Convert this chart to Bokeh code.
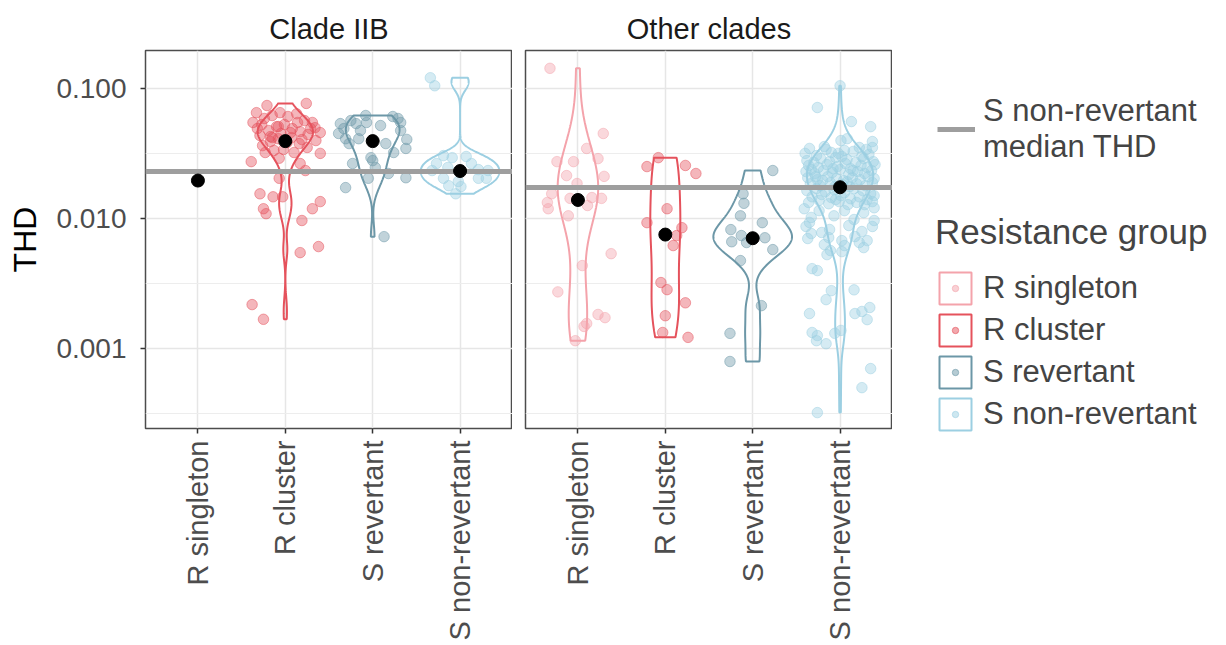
import numpy as np
from bokeh.plotting import figure
from bokeh.models import (Range1d, FixedTicker, Legend, LegendItem, Grid,
                          NumeralTickFormatter, ColumnDataSource)
from bokeh.layouts import row, column
from bokeh.embed import file_html
from bokeh.resources import INLINE

FONT = "Liberation Sans"

groups = ["R singleton", "R cluster", "S revertant", "S non-revertant"]
colors = ["#F4A3AB", "#E5525C", "#6C97A7", "#9CCFE2"]
median_line_color = "#9E9E9E"
panel_titles = ["Clade IIB", "Other clades"]
y_tick_values = [0.001, 0.01, 0.1]

# ---------------- Clade IIB ----------------
iib_r_singleton_thd = [0.0196]
iib_r_singleton_dx = [0.00]

iib_r_cluster_thd = [0.0274, 0.0291, 0.0234, 0.0204, 0.0155, 0.0147, 0.0147, 0.0119,
                     0.0109, 0.0135, 0.0119, 0.00966, 0.00609, 0.00547, 0.00218, 0.00168,
                     0.0740, 0.0652, 0.0768, 0.0548, 0.0458, 0.0317, 0.0265, 0.0492,
                     0.0588, 0.0620, 0.0652, 0.0609, 0.0639, 0.0567, 0.0548, 0.0435,
                     0.0475, 0.0509, 0.0529, 0.0492, 0.0466, 0.0443, 0.0398, 0.0364,
                     0.0391, 0.0411, 0.0419, 0.0377, 0.0352, 0.0500, 0.0322, 0.0334,
                     0.0340, 0.0322, 0.0405, 0.0384, 0.0427, 0.0492, 0.0510, 0.0458,
                     0.0528, 0.0548, 0.0451, 0.0420]
iib_r_cluster_dx = [-0.39, -0.07, 0.23, -0.07, -0.29, -0.14, -0.03, -0.25,
                    -0.22, 0.40, 0.31, 0.19, 0.38, 0.17, -0.38, -0.25,
                    -0.21, -0.33, 0.24, -0.37, 0.40, 0.40, 0.17, -0.32,
                    -0.24, -0.15, -0.06, 0.03, 0.13, 0.22, 0.31, -0.29,
                    -0.19, -0.10, -0.01, 0.08, 0.17, 0.26, 0.35, -0.26,
                    -0.17, -0.08, 0.07, 0.16, 0.25, 0.34, -0.23, -0.13,
                    -0.02, 0.10, 0.19, 0.02, -0.17, 0.29, -0.08, 0.06,
                    -0.27, 0.14, -0.05, -0.15]

iib_s_revertant_thd = [0.0537, 0.0451, 0.0537, 0.0620, 0.0588, 0.0548, 0.0406, 0.0346,
                       0.0377, 0.0322, 0.0377, 0.0265, 0.0294, 0.0279, 0.0247, 0.0204,
                       0.0222, 0.0206, 0.0173, 0.00726, 0.0492, 0.0567, 0.0475, 0.0548,
                       0.0609, 0.0475, 0.0519, 0.0411, 0.0411]
iib_s_revertant_dx = [-0.37, -0.39, -0.19, -0.08, 0.29, 0.32, 0.39, 0.38,
                      0.15, 0.24, -0.27, -0.23, -0.02, 0.00, 0.03, -0.05,
                      0.18, 0.38, -0.31, 0.13, -0.33, -0.25, -0.14, -0.07,
                      0.23, 0.32, 0.09, -0.16, -0.31]

iib_s_nonrev_thd = [0.121, 0.105, 0.0305, 0.0294, 0.0300, 0.0265, 0.0234, 0.0247,
                    0.0238, 0.0234, 0.0204, 0.0204, 0.0204, 0.0193, 0.0155, 0.0265,
                    0.0176, 0.0179]
iib_s_nonrev_dx = [-0.34, -0.29, -0.19, -0.09, 0.07, -0.27, -0.32, -0.14,
                   0.21, 0.32, -0.19, 0.21, 0.30, -0.02, -0.05, 0.13,
                   0.01, -0.13]

iib_medians = [0.0196, 0.0394, 0.0394, 0.0232]

# ---------------- Other clades ----------------
oth_r_singleton_thd = [0.143, 0.0451, 0.0346, 0.0274, 0.0274, 0.0289, 0.0214, 0.0211,
                       0.0186, 0.0155, 0.0133, 0.0119, 0.0143, 0.0126, 0.0145, 0.0143,
                       0.0105, 0.00537, 0.00435, 0.00273, 0.00183, 0.00173, 0.00156,
                       0.00148, 0.00115]
oth_r_singleton_dx = [-0.32, 0.29, 0.10, -0.24, -0.05, 0.23, -0.13, 0.30,
                      -0.01, -0.30, -0.35, -0.34, -0.09, 0.11, 0.16, 0.27,
                      -0.11, 0.38, 0.05, -0.23, 0.23, 0.31, 0.10, 0.07, -0.03]

oth_r_cluster_thd = [0.0251, 0.0294, 0.0256, 0.0222, 0.0119, 0.00930, 0.00851, 0.00740,
                     0.00620, 0.00322, 0.00284, 0.00225, 0.00179, 0.00133, 0.00122]
oth_r_cluster_dx = [-0.21, -0.08, 0.23, 0.35, 0.02, -0.21, 0.19, 0.13,
                    0.09, -0.05, 0.02, 0.23, 0.00, -0.03, 0.26]

oth_s_revertant_thd = [0.0234, 0.0155, 0.0131, 0.0105, 0.00930, 0.00822, 0.00740, 0.00712,
                       0.00663, 0.00654, 0.00577, 0.00475, 0.00214, 0.00131, 0.000796]
oth_s_revertant_dx = [0.23, -0.11, -0.10, -0.14, 0.11, -0.25, -0.13, 0.14,
                      -0.24, -0.07, 0.23, -0.14, 0.10, -0.26, -0.26]

oth_s_nonrev_thd = [
    0.105, 0.0714, 0.0557, 0.0509, 0.0411, 0.0391, 0.0352, 0.0398,
    0.0346, 0.0358, 0.0334, 0.0352, 0.0340,
    0.0317, 0.0305, 0.0322, 0.0300, 0.0328, 0.0311, 0.0317,
    0.0279, 0.0289, 0.0274, 0.0295, 0.0284, 0.0270, 0.0289, 0.0274, 0.0270,
    0.0256, 0.0247, 0.0260, 0.0251, 0.0265, 0.0242, 0.0256, 0.0247, 0.0260, 0.0242,
    0.0230, 0.0222, 0.0234, 0.0226, 0.0238, 0.0218, 0.0230, 0.0222, 0.0234, 0.0238, 0.0234,
    0.0206, 0.0199, 0.0210, 0.0203, 0.0196, 0.0206, 0.0199, 0.0210, 0.0203, 0.0196,
    0.0185, 0.0179, 0.0189, 0.0182, 0.0176, 0.0185, 0.0179, 0.0189, 0.0176,
    0.0340, 0.0300, 0.0210, 0.0192,
    0.0164, 0.0170, 0.0161, 0.0167, 0.0158, 0.0170, 0.0164, 0.0155, 0.0147, 0.0153,
    0.0145, 0.0150, 0.0142, 0.0147, 0.0140, 0.0150, 0.0133, 0.0138, 0.0130, 0.0135,
    0.0128, 0.0133, 0.0128, 0.0135, 0.0140,
    0.00933, 0.00767, 0.00781, 0.00654, 0.00677, 0.00677, 0.00702, 0.00631, 0.00620,
    0.00727, 0.0102, 0.00869, 0.00824, 0.00795, 0.00869, 0.00966, 0.0121, 0.00884,
    0.0105, 0.0115, 0.0115, 0.0111, 0.00714, 0.00983, 0.0119,
    0.00412, 0.00398, 0.00279, 0.00283, 0.00238, 0.00207, 0.00186, 0.00193, 0.00167,
    0.00186, 0.00133, 0.00126, 0.00109, 0.00131, 0.00138, 0.00115, 0.000702, 0.000501,
    0.000322, 0.00567, 0.00557, 0.00528, 0.00598]
oth_s_nonrev_dx = [
    0.00, -0.26, 0.13, 0.35, 0.08, 0.37, 0.37, 0.01,
    -0.35, -0.18, 0.05, 0.22, 0.30,
    -0.40, -0.27, -0.10, 0.02, 0.15, 0.33, -0.02,
    -0.38, -0.22, -0.12, -0.05, 0.08, 0.18, 0.27, 0.38, -0.30,
    -0.36, -0.25, -0.15, -0.03, 0.06, 0.12, 0.24, 0.31, 0.40, -0.08,
    -0.39, -0.29, -0.19, -0.09, 0.00, 0.10, 0.20, 0.28, 0.36, -0.33, 0.15,
    -0.37, -0.26, -0.14, -0.04, 0.04, 0.14, 0.23, 0.32, 0.39, -0.20,
    -0.34, -0.23, -0.11, 0.03, 0.11, 0.19, 0.29, 0.37, -0.06,
    -0.16, 0.25, -0.28, 0.08,
    -0.38, -0.27, -0.17, -0.07, 0.05, 0.16, 0.26, 0.35, -0.32, -0.21,
    -0.10, 0.01, 0.12, 0.22, 0.31, 0.39, -0.36, -0.24, -0.13, -0.01,
    0.09, 0.19, 0.28, 0.37, -0.05,
    -0.35, -0.33, -0.21, 0.22, 0.31, 0.02, -0.37, -0.18, 0.05,
    0.17, -0.33, -0.39, -0.12, 0.25, 0.37, 0.39, 0.39, 0.10,
    -0.07, -0.24, 0.05, 0.27, -0.13, 0.16, -0.41,
    -0.32, -0.26, -0.10, 0.16, -0.16, 0.34, 0.17, 0.25, 0.31,
    -0.35, -0.32, -0.26, -0.16, -0.06, 0.01, -0.27, 0.35, 0.25,
    -0.26, -0.11, 0.02, -0.15, 0.27]

oth_medians = [0.0139, 0.00753, 0.00706, 0.0174]

panels = [
    dict(title=panel_titles[0],
         thd=[iib_r_singleton_thd, iib_r_cluster_thd, iib_s_revertant_thd, iib_s_nonrev_thd],
         dx=[iib_r_singleton_dx, iib_r_cluster_dx, iib_s_revertant_dx, iib_s_nonrev_dx],
         medians=iib_medians),
    dict(title=panel_titles[1],
         thd=[oth_r_singleton_thd, oth_r_cluster_thd, oth_s_revertant_thd, oth_s_nonrev_thd],
         dx=[oth_r_singleton_dx, oth_r_cluster_dx, oth_s_revertant_dx, oth_s_nonrev_dx],
         medians=oth_medians),
]


def kde_log(vals):
    lv = np.log10(np.asarray(vals, dtype=float))
    n = len(lv)
    sd = lv.std(ddof=1)
    q75, q25 = np.percentile(lv, [75, 25])
    lo = min(sd, (q75 - q25) / 1.34)
    if lo <= 0:
        lo = sd
    bw = 0.9 * lo * n ** -0.2
    grid = np.linspace(lv.min(), lv.max(), 512)
    dens = np.exp(-0.5 * ((grid[:, None] - lv[None, :]) / bw) ** 2).sum(1) / (n * bw * np.sqrt(2 * np.pi))
    return grid, dens


Y_LO, Y_HI = 0.000243, 0.196
FRAME_W, FRAME_H = 367, 378
TOP, BOTTOM = 50, 215
H = TOP + FRAME_H + BOTTOM
TOTAL_W = 1218

figs = []
for k, pan in enumerate(panels):
    left = 145 if k == 0 else 13
    p = figure(width=left + FRAME_W, height=H, y_axis_type="log",
               y_axis_location="left" if k == 0 else None,
               x_range=Range1d(0.4, 4.6), y_range=Range1d(Y_LO, Y_HI),
               toolbar_location=None, output_backend="svg",
               min_border_left=left, min_border_right=0,
               min_border_top=TOP, min_border_bottom=BOTTOM)
    p.title.text = pan["title"]
    p.title.align = "center"
    p.title.text_font = FONT
    p.title.text_font_size = "29px"
    p.title.text_font_style = "normal"
    p.title.text_color = "#1A1A1A"
    p.title.standoff = 12
    p.outline_line_color = "#4D4D4D"
    p.outline_line_width = 1.5
    p.background_fill_color = "white"
    p.border_fill_color = "white"

    # x axis
    p.xaxis.ticker = FixedTicker(ticks=[1, 2, 3, 4])
    p.xaxis.major_label_overrides = {i + 1: g for i, g in enumerate(groups)}
    p.xaxis.major_label_orientation = np.pi / 2
    p.xaxis.axis_line_color = None
    p.xaxis.major_tick_line_color = "#333333"
    p.xaxis.major_tick_line_width = 1.5
    p.xaxis.major_tick_out = 5
    p.xaxis.major_tick_in = 0
    p.xaxis.minor_tick_line_color = None
    p.xaxis.major_label_standoff = 7
    p.xaxis.major_label_text_font = FONT
    p.xaxis.major_label_text_font_size = "29px"
    p.xaxis.major_label_text_color = "#4D4D4D"
    p.xgrid.grid_line_color = "#E6E6E6"
    p.xgrid.grid_line_width = 1.5

    yt = FixedTicker(ticks=y_tick_values,
                     minor_ticks=[10 ** -3.5, 10 ** -2.5, 10 ** -1.5])
    if k == 0:
        p.yaxis.ticker = FixedTicker(ticks=y_tick_values)
        p.yaxis.formatter = NumeralTickFormatter(format="0.000")
        p.yaxis.axis_label = "THD"
        p.yaxis.axis_label_text_font = FONT
        p.yaxis.axis_label_text_font_size = "32px"
        p.yaxis.axis_label_text_font_style = "normal"
        p.yaxis.axis_label_text_color = "black"
        p.yaxis.axis_label_standoff = 10
        p.yaxis.axis_line_color = None
        p.yaxis.major_tick_line_color = "#333333"
        p.yaxis.major_tick_line_width = 1.5
        p.yaxis.major_tick_out = 5
        p.yaxis.major_tick_in = 0
        p.yaxis.minor_tick_line_color = None
        p.yaxis.major_label_standoff = 14
        p.yaxis.major_label_text_font = FONT
        p.yaxis.major_label_text_font_size = "28px"
        p.yaxis.major_label_text_color = "#4D4D4D"
        p.ygrid.ticker = yt
        p.ygrid.grid_line_color = "#E6E6E6"
        p.ygrid.grid_line_width = 1.5
        p.ygrid.minor_grid_line_color = "#EDEDED"
        p.ygrid.minor_grid_line_width = 1.2
    else:
        g = Grid(dimension=1, ticker=yt, grid_line_color="#E6E6E6", grid_line_width=1.5,
                 minor_grid_line_color="#EDEDED", minor_grid_line_width=1.2)
        p.add_layout(g)

    # jittered points
    for i, (vals, dxs) in enumerate(zip(pan["thd"], pan["dx"])):
        p.scatter(x=[i + 1 + d for d in dxs], y=vals, size=10.5,
                  fill_color=colors[i], fill_alpha=0.42,
                  line_color=colors[i], line_alpha=0.5, line_width=1)

    # violins (density of log10 THD, scaled by area within panel)
    dens_list = []
    for vals in pan["thd"]:
        if len(vals) >= 2:
            dens_list.append(kde_log(vals))
        else:
            dens_list.append(None)
    dmax = max(d[1].max() for d in dens_list if d is not None)
    for i, d in enumerate(dens_list):
        if d is None:
            continue
        grid, dens = d
        w = 0.45 * dens / dmax
        xs = np.concatenate([i + 1 + w, (i + 1 - w)[::-1]])
        ys = 10 ** np.concatenate([grid, grid[::-1]])
        p.patch(x=xs, y=ys, fill_color=None, line_color=colors[i], line_width=2)

    # S non-revertant median line
    p.hspan(y=[pan["medians"][3]], line_color=median_line_color, line_width=5)

    # group medians
    p.scatter(x=[1, 2, 3, 4], y=pan["medians"], size=13, fill_color="black",
              line_color="black")
    figs.append(p)

# ---------------- legend panel ----------------
LW = TOTAL_W - figs[0].width - figs[1].width
pl = figure(width=LW, height=H, x_range=Range1d(0, 1), y_range=Range1d(0, 1),
            x_axis_location=None, y_axis_location=None,
            toolbar_location=None, output_backend="svg",
            min_border=0, outline_line_color=None)
pl.title = None
pl.xgrid.visible = False
pl.ygrid.visible = False

# legend-only renderers: one NaN row so nothing shows inside the panel
nan_src = lambda: ColumnDataSource(data=dict(x=[np.nan], y=[np.nan]))

line_r = pl.line(x="x", y="y", source=nan_src(), line_color=median_line_color, line_width=5)
leg1 = Legend(items=[LegendItem(label="S non-revertant\nmedian THD", renderers=[line_r])],
              location=(45, 478), glyph_width=38, glyph_height=30, padding=0, margin=0,
              border_line_color=None, background_fill_alpha=0,
              label_text_font=FONT, label_text_font_size="31px", label_standoff=8,
              label_text_line_height=0.95)
pl.add_layout(leg1)

items, dot_items = [], []
for i, gname in enumerate(groups):
    box = pl.patch(x="x", y="y", source=nan_src(), fill_color=None,
                   line_color=colors[i], line_width=2)
    dot = pl.scatter(x="x", y="y", source=nan_src(), marker="circle",
                     line_color=colors[i], line_alpha=0.6,
                     fill_color=colors[i], fill_alpha=0.5)
    items.append(LegendItem(label=gname, renderers=[box]))
    dot_items.append(LegendItem(label=" ", renderers=[dot]))
LEG2_X, LEG2_Y = 43, 209
leg2 = Legend(items=items, title="Resistance group", location=(LEG2_X, LEG2_Y),
              glyph_width=40, glyph_height=40, label_height=40, spacing=2,
              padding=0, margin=0, border_line_color=None, background_fill_alpha=0,
              label_text_font=FONT, label_text_font_size="31px", label_standoff=8,
              title_text_font=FONT, title_text_font_size="35px",
              title_text_font_style="normal", title_standoff=16)
pl.add_layout(leg2)
# small dots centred in the legend keys
leg3 = Legend(items=dot_items, location=(LEG2_X + 12, LEG2_Y + 12),
              glyph_width=16, glyph_height=16, label_height=16, spacing=26,
              padding=0, margin=0, border_line_color=None, background_fill_alpha=0,
              label_text_font_size="8px", label_standoff=0)
pl.add_layout(leg3)

layout = row(figs[0], figs[1], column(pl))
open("out.html", "w").write(file_html(layout, INLINE))
